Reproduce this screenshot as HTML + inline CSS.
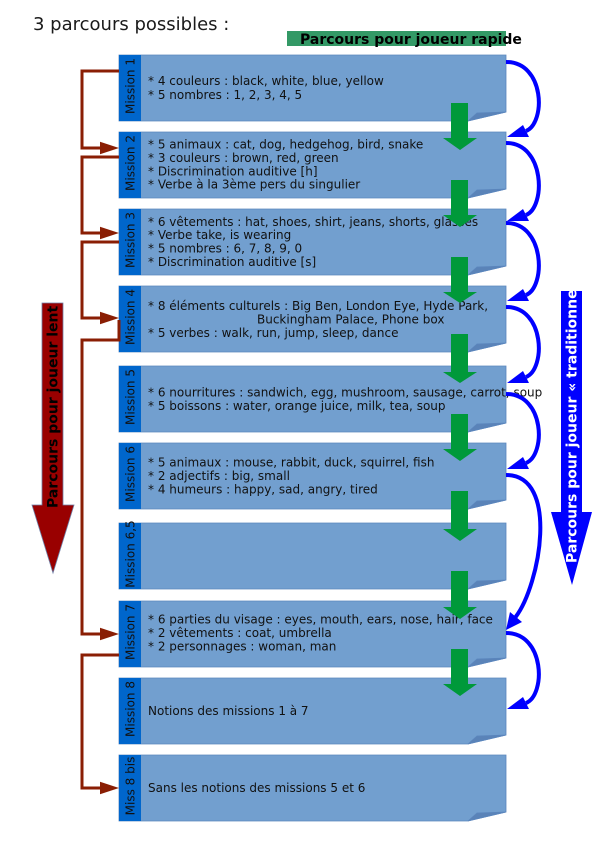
<!DOCTYPE html>
<html>
<head>
<meta charset="utf-8">
<style>
html,body{margin:0;padding:0;background:#fff;}
svg{display:block;}
text{font-family:"DejaVu Sans","Liberation Sans",sans-serif;}
.t{font-size:12px;fill:#111;}
.lbl{font-size:12px;fill:#111;}
</style>
</head>
<body>
<svg width="600" height="848" viewBox="0 0 600 848" xmlns="http://www.w3.org/2000/svg">
  <!-- title -->
  <text x="33" y="30" style="font-size:18px;fill:#1a1a1a">3 parcours possibles :</text>

  <!-- green label -->
  <rect x="287" y="31" width="219" height="15" fill="#339966"/>
  <text x="300" y="44" style="font-size:14px;font-weight:bold;fill:#000">Parcours pour joueur rapide</text>

  <!-- boxes -->
  <g stroke="#5b86bd" stroke-width="0.8">
    <polygon points="119,55 506,55 506,112 468,121 119,121" fill="#729fcf"/>
    <polygon points="468,121 477,113 506,112" fill="#5a83b8"/>
    <polygon points="119,132 506,132 506,189 468,198 119,198" fill="#729fcf"/>
    <polygon points="468,198 477,190 506,189" fill="#5a83b8"/>
    <polygon points="119,209 506,209 506,266 468,275 119,275" fill="#729fcf"/>
    <polygon points="468,275 477,267 506,266" fill="#5a83b8"/>
    <polygon points="119,286 506,286 506,343 468,352 119,352" fill="#729fcf"/>
    <polygon points="468,352 477,344 506,343" fill="#5a83b8"/>
    <polygon points="119,366 506,366 506,423 468,432 119,432" fill="#729fcf"/>
    <polygon points="468,432 477,424 506,423" fill="#5a83b8"/>
    <polygon points="119,443 506,443 506,500 468,509 119,509" fill="#729fcf"/>
    <polygon points="468,509 477,501 506,500" fill="#5a83b8"/>
    <polygon points="119,523 506,523 506,580 468,589 119,589" fill="#729fcf"/>
    <polygon points="468,589 477,581 506,580" fill="#5a83b8"/>
    <polygon points="119,601 506,601 506,658 468,667 119,667" fill="#729fcf"/>
    <polygon points="468,667 477,659 506,658" fill="#5a83b8"/>
    <polygon points="119,678 506,678 506,735 468,744 119,744" fill="#729fcf"/>
    <polygon points="468,744 477,736 506,735" fill="#5a83b8"/>
    <polygon points="119,755 506,755 506,812 468,821 119,821" fill="#729fcf"/>
    <polygon points="468,821 477,813 506,812" fill="#5a83b8"/>
  </g>

  <!-- label strips -->
  <g fill="#0066cc">
    <rect x="119" y="55" width="22" height="66"/>
    <rect x="119" y="132" width="22" height="66"/>
    <rect x="119" y="209" width="22" height="66"/>
    <rect x="119" y="286" width="22" height="66"/>
    <rect x="119" y="366" width="22" height="66"/>
    <rect x="119" y="443" width="22" height="66"/>
    <rect x="119" y="523" width="22" height="66"/>
    <rect x="119" y="601" width="22" height="66"/>
    <rect x="119" y="678" width="22" height="66"/>
    <rect x="119" y="755" width="22" height="66"/>
  </g>

  <!-- strip labels -->
  <g class="lbl" text-anchor="middle">
    <text class="lbl" transform="translate(134.5,86) rotate(-90)">Mission 1</text>
    <text class="lbl" transform="translate(134.5,163) rotate(-90)">Mission 2</text>
    <text class="lbl" transform="translate(134.5,240) rotate(-90)">Mission 3</text>
    <text class="lbl" transform="translate(134.5,317) rotate(-90)">Mission 4</text>
    <text class="lbl" transform="translate(134.5,397) rotate(-90)">Mission 5</text>
    <text class="lbl" transform="translate(134.5,474) rotate(-90)">Mission 6</text>
    <text class="lbl" transform="translate(134.5,554) rotate(-90)">Mission 6,5</text>
    <text class="lbl" transform="translate(134.5,632) rotate(-90)">Mission 7</text>
    <text class="lbl" transform="translate(134.5,709) rotate(-90)">Mission 8</text>
    <text class="lbl" transform="translate(134.5,786) rotate(-90)">Miss 8 bis</text>
  </g>

  <!-- box texts -->
  <g class="t">
    <text class="t" x="148" y="85">* 4 couleurs : black, white, blue, yellow</text>
    <text class="t" x="148" y="99">* 5 nombres : 1, 2, 3, 4, 5</text>

    <text class="t" x="148" y="148.5">* 5 animaux : cat, dog, hedgehog, bird, snake</text>
    <text class="t" x="148" y="162">* 3 couleurs : brown, red, green</text>
    <text class="t" x="148" y="175.5">* Discrimination auditive [h]</text>
    <text class="t" x="148" y="188.5">* Verbe à la 3ème pers du singulier</text>

    <text class="t" x="148" y="226">* 6 vêtements : hat, shoes, shirt, jeans, shorts, glasses</text>
    <text class="t" x="148" y="239">* Verbe take, is wearing</text>
    <text class="t" x="148" y="252.5">* 5 nombres : 6, 7, 8, 9, 0</text>
    <text class="t" x="148" y="266">* Discrimination auditive [s]</text>

    <text class="t" x="148" y="310">* 8 éléments culturels : Big Ben, London Eye, Hyde Park,</text>
    <text class="t" x="257" y="323.5">Buckingham Palace, Phone box</text>
    <text class="t" x="148" y="337">* 5 verbes : walk, run, jump, sleep, dance</text>

    <text class="t" x="148" y="396.5">* 6 nourritures : sandwich, egg, mushroom, sausage, carrot, soup</text>
    <text class="t" x="148" y="410">* 5 boissons : water, orange juice, milk, tea, soup</text>

    <text class="t" x="148" y="466.5">* 5 animaux : mouse, rabbit, duck, squirrel, fish</text>
    <text class="t" x="148" y="480">* 2 adjectifs : big, small</text>
    <text class="t" x="148" y="493.5">* 4 humeurs : happy, sad, angry, tired</text>

    <text class="t" x="148" y="623.5">* 6 parties du visage : eyes, mouth, ears, nose, hair, face</text>
    <text class="t" x="148" y="637">* 2 vêtements : coat, umbrella</text>
    <text class="t" x="148" y="650.5">* 2 personnages : woman, man</text>

    <text class="t" x="148" y="715">Notions des missions 1 à 7</text>
    <text class="t" x="148" y="792">Sans les notions des missions 5 et 6</text>
  </g>

  <!-- green arrows -->
  <g fill="#00993a">
    <polygon points="451,103 468,103 468,138 477,138 460,150 443,138 451,138"/>
    <polygon points="451,180 468,180 468,215 477,215 460,227 443,215 451,215"/>
    <polygon points="451,257 468,257 468,292 477,292 460,303 443,292 451,292"/>
    <polygon points="451,334 468,334 468,372 477,372 460,383 443,372 451,372"/>
    <polygon points="451,414 468,414 468,449 477,449 460,461 443,449 451,449"/>
    <polygon points="451,491 468,491 468,529 477,529 460,541 443,529 451,529"/>
    <polygon points="451,571 468,571 468,607 477,607 460,619 443,607 451,607"/>
    <polygon points="451,649 468,649 468,684 477,684 460,696 443,684 451,684"/>
  </g>

  <!-- blue curved arrows -->
  <g stroke="#0000ff" stroke-width="4" fill="none">
    <path d="M506,62 C545,62 546,123 526,131"/>
    <path d="M506,143 C545,143 546,207 526,215"/>
    <path d="M506,223 C545,223 546,287 526,295"/>
    <path d="M506,307 C545,307 546,369 526,377"/>
    <path d="M506,394 C545,394 546,455 526,463"/>
    <path d="M506,475 C560,475 540,585 515.6,617"/>
    <path d="M506,633 C545,633 546,695 526,703"/>
  </g>
  <g fill="#0000ff">
    <polygon points="507,137 523,125 529,137"/>
    <polygon points="507,221 523,209 529,221"/>
    <polygon points="507,301 523,289 529,301"/>
    <polygon points="507,383 523,371 529,383"/>
    <polygon points="507,469 523,457 529,469"/>
    <polygon points="506,630 510,612 522,622"/>
    <polygon points="507,709 523,697 529,709"/>
  </g>

  <!-- red connector lines -->
  <g stroke="#8a1e04" stroke-width="3" fill="none" stroke-linejoin="miter">
    <polyline points="119,71 82,71 82,148 102,148"/>
    <polyline points="119,157 82,157 82,233 102,233"/>
    <polyline points="119,242 82,242 82,318 102,318"/>
    <polyline points="119,320 119,340 82,340 82,634 102,634"/>
    <polyline points="119,655 82,655 82,788 102,788"/>
  </g>
  <g fill="#8a1e04">
    <polygon points="100,141.7 119,148 100,154.3"/>
    <polygon points="100,226.7 119,233 100,239.3"/>
    <polygon points="100,311.7 119,318 100,324.3"/>
    <polygon points="100,627.7 119,634 100,640.3"/>
    <polygon points="100,781.7 119,788 100,794.3"/>
  </g>

  <!-- red big arrow -->
  <polygon points="42,303 63,303 63,505 74,505 53,573 32,505 42,505" fill="#990000" stroke="#6f7fa6" stroke-width="0.8"/>
  <text transform="translate(57.5,508) rotate(-90)" style="font-size:14px;font-weight:bold;fill:#000">Parcours pour joueur lent</text>

  <!-- blue big arrow -->
  <polygon points="561,291 582,291 582,512 592,512 572,585 551,512 561,512" fill="#0000ff"/>
  <text transform="translate(576.5,563) rotate(-90)" style="font-size:14px;font-weight:bold;fill:#fff">Parcours pour joueur « traditionnel »</text>
</svg>
</body>
</html>
